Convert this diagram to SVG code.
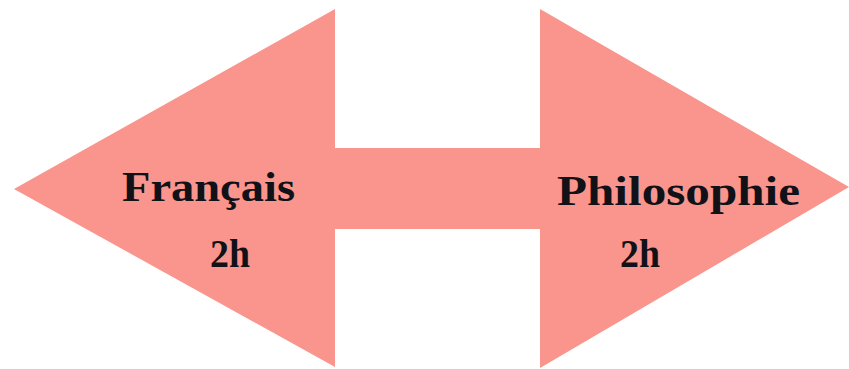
<svg xmlns="http://www.w3.org/2000/svg" width="849" height="369" viewBox="0 0 849 369">
<style>
.shape{fill:#F9958C;}
.lbl{font-family:"Liberation Serif","Times New Roman",serif;font-weight:bold;fill:#111118;}
</style>
<rect width="849" height="369" fill="#ffffff"/>
<g id="double-arrow">
<path class="shape" d="M14,189 L335,9 L335,148 L540,148 L540,9 L849,187 L540,368 L540,229 L335,229 L335,367 Z"/>
</g>
<g id="francais">
<text class="lbl" x="122" y="201" font-size="42" textLength="173" lengthAdjust="spacingAndGlyphs">Français</text>
<text class="lbl" x="210" y="267" font-size="40" textLength="40" lengthAdjust="spacingAndGlyphs">2h</text>
</g>
<g id="philosophie">
<text class="lbl" x="557" y="205" font-size="42" textLength="243" lengthAdjust="spacingAndGlyphs">Philosophie</text>
<text class="lbl" x="620" y="267" font-size="40" textLength="40" lengthAdjust="spacingAndGlyphs">2h</text>
</g>
</svg>
